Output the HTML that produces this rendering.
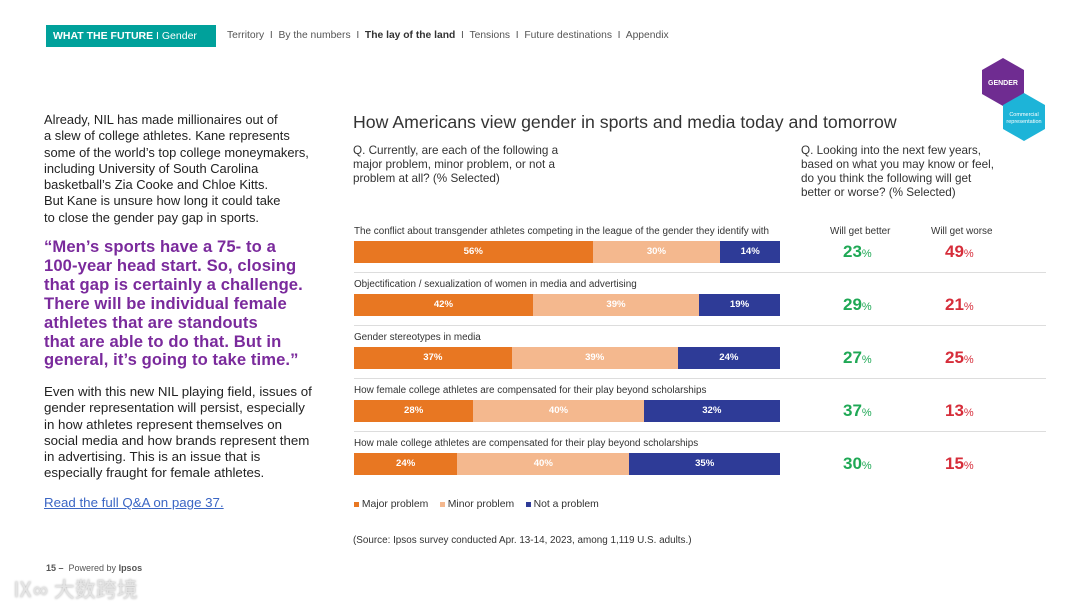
<!DOCTYPE html>
<html><head><meta charset="utf-8"><style>
body{margin:0;width:1080px;height:608px;background:#fff;font-family:"Liberation Sans",Arial,sans-serif;position:relative;overflow:hidden;color:#222}
.a{position:absolute;white-space:nowrap}
.nav{font-size:10.3px;color:#555}
.body{line-height:16.3px;color:#222}
.q{font-size:16.6px;line-height:18.9px;font-weight:bold;color:#7a2a9c;letter-spacing:0.1px}
</style></head><body>
<div class="a" style="left:46px;top:25px;width:170px;height:22px;background:#00a19b;color:#fff;font-size:10.5px;line-height:22px;padding-left:7px;box-sizing:border-box"><b>WHAT THE FUTURE</b> I Gender</div>
<div class="a nav" style="left:227px;top:30px">Territory &nbsp;I&nbsp; By the numbers &nbsp;I&nbsp; <b style="color:#333">The lay of the land</b> &nbsp;I&nbsp; Tensions &nbsp;I&nbsp; Future destinations &nbsp;I&nbsp; Appendix</div>
<svg class="a" style="left:975px;top:55px" width="75" height="90">
<polygon points="28,3 49,15 49,39 28,51 7,39 7,15" fill="#6f2c91"/>
<polygon points="49,38 70,50 70,74 49,86 28,74 28,50" fill="#1db4d8"/>
<text x="28" y="30" font-size="7" font-weight="bold" fill="#fff" text-anchor="middle" font-family="Liberation Sans">GENDER</text>
<text x="49" y="61" font-size="5.5" fill="#fff" text-anchor="middle" font-family="Liberation Sans">Commercial</text>
<text x="49" y="68" font-size="5.5" fill="#fff" text-anchor="middle" font-family="Liberation Sans">representation</text>
</svg>
<div class="a body" style="left:44px;top:112px;font-size:12.9px">Already, NIL has made millionaires out of<br>a slew of college athletes. Kane represents<br>some of the world’s top college moneymakers,<br>including University of South Carolina<br>basketball’s Zia Cooke and Chloe Kitts.<br>But Kane is unsure how long it could take<br>to close the gender pay gap in sports.</div>
<div class="a q" style="left:44px;top:238px">“Men’s sports have a 75- to a<br>100-year head start. So, closing<br>that gap is certainly a challenge.<br>There will be individual female<br>athletes that are standouts<br>that are able to do that. But in<br>general, it’s going to take time.”</div>
<div class="a body" style="left:44px;top:384px;font-size:13.3px">Even with this new NIL playing field, issues of<br>gender representation will persist, especially<br>in how athletes represent themselves on<br>social media and how brands represent them<br>in advertising. This is an issue that is<br>especially fraught for female athletes.</div>
<div class="a" style="left:44px;top:495px;font-size:13.3px;color:#3b66c4;text-decoration:underline">Read the full Q&amp;A on page 37.</div>
<div class="a" style="left:353px;top:112px;font-size:17.7px;color:#333">How Americans view gender in sports and media today and tomorrow</div>
<div class="a" style="left:353px;top:144px;font-size:11.7px;line-height:14px;color:#333">Q. Currently, are each of the following a<br>major problem, minor problem, or not a<br>problem at all? (% Selected)</div>
<div class="a" style="left:801px;top:144px;font-size:11.7px;line-height:14px;color:#333">Q. Looking into the next few years,<br>based on what you may know or feel,<br>do you think the following will get<br>better or worse? (% Selected)</div>
<div id="chart"></div>
<div class="a" style="left:354px;top:499px;font-size:10.4px;color:#333"><span style="display:inline-block;width:5px;height:5px;background:#e87722"></span> Major problem &nbsp;&nbsp;&nbsp;<span style="display:inline-block;width:5px;height:5px;background:#f4b88e"></span> Minor problem &nbsp;&nbsp;&nbsp;<span style="display:inline-block;width:5px;height:5px;background:#2e3b97"></span> Not a problem</div>
<div class="a" style="left:353px;top:535px;font-size:9.9px;color:#333">(Source: Ipsos survey conducted Apr. 13-14, 2023, among 1,119 U.S. adults.)</div>
<div class="a" style="left:46px;top:563px;font-size:9px;color:#555"><b>15 –</b>&nbsp; Powered by <b>Ipsos</b></div>
<div class="a" style="left:12px;top:574px;font-size:21px;color:#e4e4e4;font-family:'Liberation Sans','Noto Sans CJK SC',sans-serif;text-shadow:0 0 2px #aaa">Ⅸ∞ 大数跨境</div>
<script>
const categories=["The conflict about transgender athletes competing in the league of the gender they identify with","Objectification / sexualization of women in media and advertising","Gender stereotypes in media","How female college athletes are compensated for their play beyond scholarships","How male college athletes are compensated for their play beyond scholarships"];
const major=[56,42,37,28,24];
const minor=[30,39,39,40,40];
const notProblem=[14,19,24,32,35];
const better=[23,29,27,37,30];
const worse=[49,21,25,13,15];
const c=document.getElementById('chart');
const x0=354,w=426,top0=241,step=53;
function add(html,name){const d=document.createElement('div');d.className='a';d.innerHTML=html;c.appendChild(d);return d;}
const hb=add('Will get better','col-better');hb.style.cssText+='left:830px;top:226px;font-size:9.9px;color:#333';
const hw=add('Will get worse','col-worse');hw.style.cssText+='left:931px;top:226px;font-size:9.9px;color:#333';
categories.forEach((cat,i)=>{
 const y=top0+i*step;
 const total=major[i]+minor[i]+notProblem[i];
 const l=add(cat,'row-label');l.style.cssText+='left:354px;top:'+(y-15)+'px;font-size:9.9px;color:#333';
 let x=x0;
 [[major,'#e87722','major'],[minor,'#f4b88e','minor'],[notProblem,'#2e3b97','not']].forEach(([arr,col,n])=>{
  const bw=arr[i]/total*w;
  const b=add(arr[i]+'%','bar-'+n);
  b.style.cssText+='left:'+x+'px;top:'+y+'px;width:'+bw+'px;height:22px;background:'+col+';color:#fff;font-size:9.6px;font-weight:bold;line-height:22px;text-align:center';
  x+=bw;
 });
 const g=add(better[i]+'<small>%</small>','value-better');g.style.cssText+='left:843px;top:'+(y+1)+'px;font-size:17px;font-weight:bold;color:#1fa855';
 g.querySelector('small').style.cssText='font-size:11px;font-weight:normal';
 const r=add(worse[i]+'<small>%</small>','value-worse');r.style.cssText+='left:945px;top:'+(y+1)+'px;font-size:17px;font-weight:bold;color:#d62d3a';
 r.querySelector('small').style.cssText='font-size:11px;font-weight:normal';
 if(i<categories.length-1){const s=add('','row-separator');s.style.cssText+='left:354px;top:'+(y+31)+'px;width:692px;height:1px;background:#ddd';}
});
</script>
</body></html>
